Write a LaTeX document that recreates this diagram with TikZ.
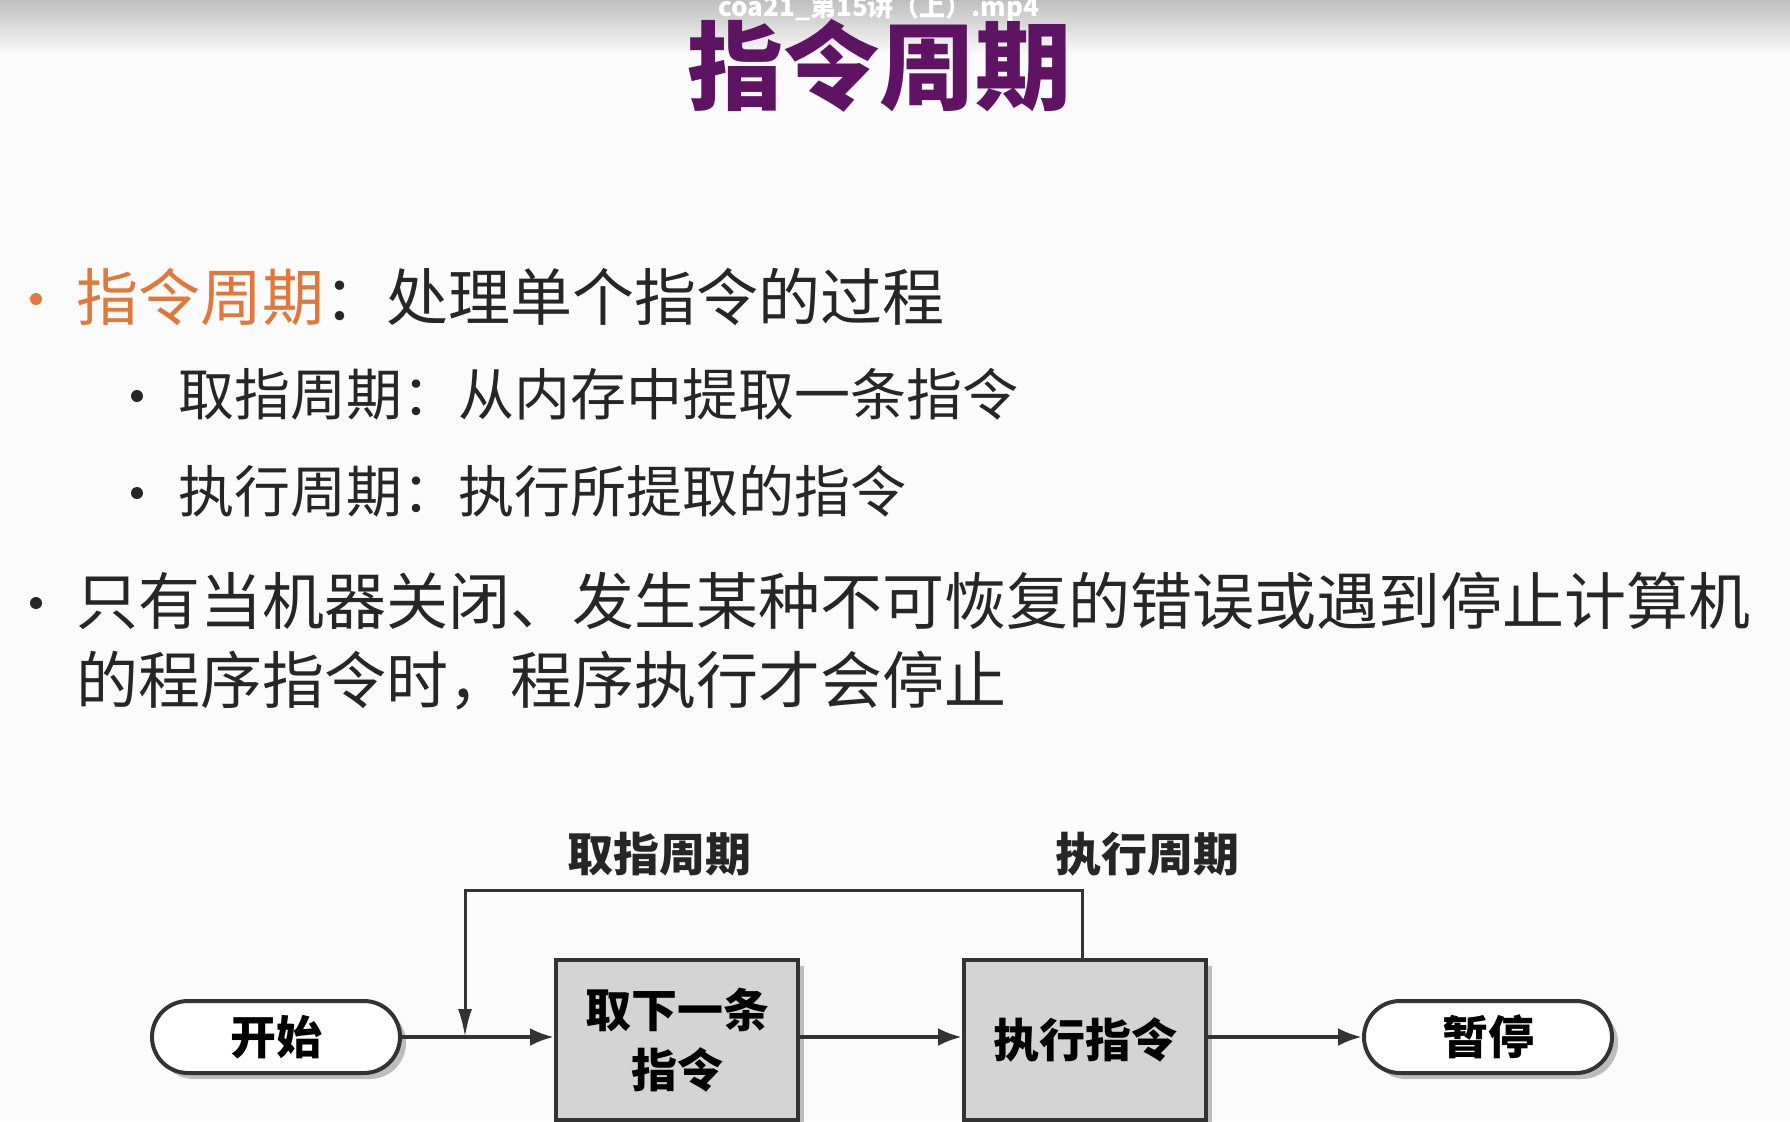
\documentclass[tikz,border=0pt]{standalone}
\usepackage{fontspec}
\setmainfont{Noto Sans CJK SC}
\newfontfamily\cjk{Noto Sans CJK SC}
\usetikzlibrary{arrows.meta,shadows}
\definecolor{ttl}{HTML}{5E1462}
\definecolor{org}{HTML}{E0783C}
\definecolor{txt}{HTML}{262626}
\definecolor{boxg}{HTML}{D4D4D4}
\tikzset{
  bul/.style={anchor=west,inner sep=0,text=txt,font=\cjk\fontsize{31pt}{36pt}\selectfont},
  subbul/.style={anchor=west,inner sep=0,text=txt,font=\cjk\fontsize{28pt}{32pt}\selectfont},
  dot/.style={circle,inner sep=0,minimum size=6pt,fill=txt},
  proc/.style={draw=black!80,line width=2pt,fill=boxg,minimum width=121pt,minimum height=80pt,align=center,
     font=\cjk\bfseries\fontsize{23pt}{30pt}\selectfont,drop shadow={shadow xshift=3pt,shadow yshift=-3pt,fill=black!50}},
  term/.style={draw=black!80,line width=2pt,fill=white,rounded corners=18pt,minimum width=124pt,minimum height=36pt,
     font=\cjk\bfseries\fontsize{23pt}{26pt}\selectfont,drop shadow={shadow xshift=3pt,shadow yshift=-3pt,fill=black!50}},
  lbl/.style={font=\cjk\bfseries\fontsize{23pt}{26pt}\selectfont,text=black!85},
  conn/.style={line width=2pt,draw=black!80,-{Latex[length=12pt,width=9pt]}},
  fb/.style={line width=1.5pt,draw=black!80}
}
\begin{document}
\begin{tikzpicture}[x=0.5pt,y=-0.5pt]
\useasboundingbox (0,0) rectangle (1790,1121);
\clip (0,0) rectangle (1790,1121);
\fill[white!97!gray] (0,0) rectangle (1790,1121);
\shade[top color=black!25,bottom color=white!97!gray] (0,0) rectangle (1790,55);
\node[text=white,font=\cjk\bfseries\fontsize{13pt}{15pt}\selectfont] (hdr) at (879,8) {coa21\_第15讲（上）.mp4};
\node[text=ttl,font=\cjk\bfseries\fontsize{48pt}{50pt}\selectfont] (title) at (879,66) {指令周期};
% bullets
\node[dot,fill=org] (d1) at (36,299) {};
\node[bul] (b1) at (76,297) {\textcolor{org}{指令周期}：处理单个指令的过程};
\node[dot] (d2) at (137,396) {};
\node[subbul] (s1) at (178,394) {取指周期：从内存中提取一条指令};
\node[dot] (d3) at (137,493) {};
\node[subbul] (s2) at (178,491) {执行周期：执行所提取的指令};
\node[dot] (d4) at (36,603) {};
\node[bul] (b2) at (76,601) {只有当机器关闭、发生某种不可恢复的错误或遇到停止计算机};
\node[bul] (b3) at (76,681) {的程序指令时，程序执行才会停止};
% diagram
\node[term] (start) at (276,1037) {开始};
\node[proc] (fetch) at (677,1040) {取下一条\\指令};
\node[proc] (exec) at (1085,1040) {执行指令};
\node[term] (halt) at (1488,1037) {暂停};
\coordinate (j) at (465,1037);
\coordinate (top2) at (1082,890);
\coordinate (top1) at (465,890);
\draw[conn] (start.east) -- (fetch.west |- start.east);
\draw[conn] (fetch.east |- start.east) -- (exec.west |- start.east);
\draw[conn] (exec.east |- start.east) -- (halt.west);
\draw[fb,-{Latex[length=14pt,width=7pt]}] (exec.north -| top2) -- (top2) -- (top1) -- (j);
\node[lbl] (l1) at (659,854) {取指周期};
\node[lbl] (l2) at (1147,854) {执行周期};
\end{tikzpicture}
\end{document}
